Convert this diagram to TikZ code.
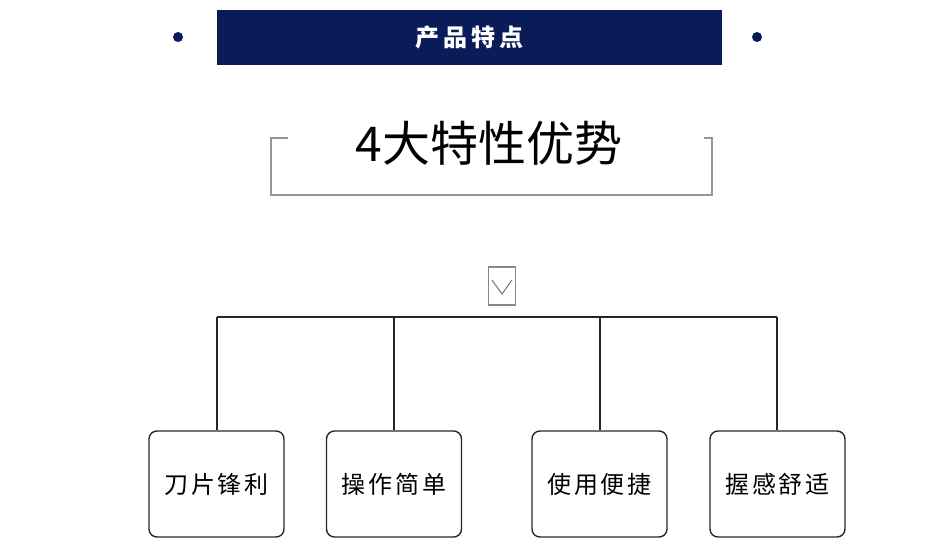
\documentclass[tikz,border=0pt]{standalone}
\usepackage{fontspec}
\setmainfont{Noto Sans CJK SC}
\newfontfamily\headfont[LetterSpace=18]{Noto Sans CJK SC}
\newfontfamily\boxfont[LetterSpace=12]{Noto Sans CJK SC}
\newfontfamily\titlefont{Noto Sans CJK SC}
\definecolor{navy}{RGB}{10,28,88}
\definecolor{bracketgray}{RGB}{150,150,150}
\definecolor{boxline}{RGB}{40,40,40}
\begin{document}
\begin{tikzpicture}[x=1pt,y=-1pt,
  dotnode/.style={circle,fill=navy,inner sep=0pt,minimum size=10pt},
  featbox/.style={draw=boxline,line width=1.4pt,rounded corners=8pt,minimum width=135pt,minimum height=106pt,inner sep=0pt,font=\boxfont\fontsize{24pt}{28pt}\selectfont},
  conn/.style={draw=black!85,line width=1.4pt},
  brk/.style={draw=bracketgray,line width=1.5pt}]
\useasboundingbox[fill=white] (0,0) rectangle (930,557);
% header
\node[fill=navy,minimum width=505pt,minimum height=55pt,inner sep=0pt,text=white,font=\headfont\bfseries\fontsize{24pt}{28pt}\selectfont] (head) at (469.5,37.5) {产品特点};
\node[dotnode] (dotL) at (178,37) {};
\node[dotnode] (dotR) at (757,37) {};
% bracket
\draw[brk] (288,138) -- (271,138) -- (271,195) -- (712,195) -- (712,138) -- (704,138);
\node[font=\titlefont\fontsize{48pt}{56pt}\selectfont,inner sep=0pt] (title) at (489,143) {4大特性优势};
% chevron box
\node[draw=bracketgray!90!black,line width=1.3pt,minimum width=27pt,minimum height=38pt,inner sep=0pt] (chev) at (502,286) {};
\draw[draw=bracketgray!80!black,line width=1pt] ([shift={(-10pt,6pt)}]chev.center) -- ([shift={(0pt,-8pt)}]chev.center) -- ([shift={(10pt,6pt)}]chev.center);
% feature boxes
\node[featbox] (f1) at (216.5,484) {刀片锋利};
\node[featbox] (f2) at (394,484) {操作简单};
\node[featbox] (f3) at (599.5,484) {使用便捷};
\node[featbox] (f4) at (777.5,484) {握感舒适};
% bus
\coordinate (b1) at (217,317);
\coordinate (b2) at (394,317);
\coordinate (b3) at (600,317);
\coordinate (b4) at (777,317);
\draw[conn] (b1) -- (b4);
\draw[conn] (b1) -- (b1 |- f1.north);
\draw[conn] (b2) -- (b2 |- f2.north);
\draw[conn] (b3) -- (b3 |- f3.north);
\draw[conn] (b4) -- (b4 |- f4.north);
\end{tikzpicture}
\end{document}
